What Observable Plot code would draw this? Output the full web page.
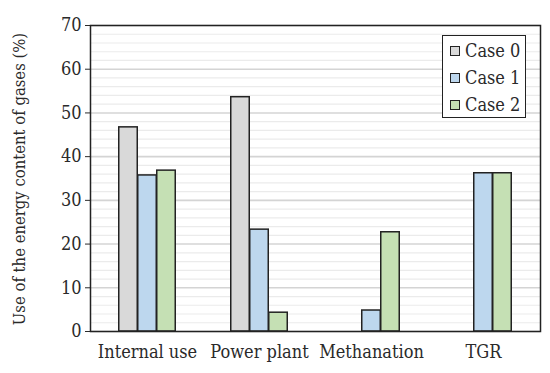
<!DOCTYPE html>
<html>
<head>
<meta charset="utf-8">
<script src="https://cdn.jsdelivr.net/npm/d3@7"></script>
<script src="https://cdn.jsdelivr.net/npm/@observablehq/plot@0.6"></script>
<style>
  html, body { margin: 0; padding: 0; background: #fff; }
  #wrap { position: relative; width: 550px; height: 373px; }
  #wrap svg text { font-family: "DejaVu Serif Condensed", "Liberation Serif", serif; }
  #legend { position: absolute; left: 442px; top: 35px; width: 84px; height: 83px;
    border: 1.5px solid #222; background: #fff; box-sizing: border-box;
    font-family: "DejaVu Serif Condensed", "Liberation Serif", serif; font-size: 18px; color: #2a2a2a; padding-top: 1px; }
  .item { display: flex; align-items: center; height: 27px; padding-left: 7px; }
  .sw { width: 8px; height: 8px; border: 1.3px solid #222; margin-right: 5px; }
</style>
</head>
<body>
<div id="wrap"><div id="legend"></div></div>
<script>
const categories = ["Internal use", "Power plant", "Methanation", "TGR"];
const series = ["Case 0", "Case 1", "Case 2"];
const case0 = [46.7, 53.6, 0, 0];
const case1 = [35.7, 23.3, 4.8, 36.2];
const case2 = [36.8, 4.3, 22.7, 36.2];
const colors = ["#d9d9d9", "#bdd7ee", "#c5e0b4"];
const yTicks = [0, 10, 20, 30, 40, 50, 60, 70];
const minorTicks = d3.range(0, 71, 2).filter(v => v % 10 !== 0);
const yLabel = "Use of the energy content of gases (%)";

const values = [case0, case1, case2];
const data = [];
series.forEach((s, i) => categories.forEach((c, j) => data.push({cat: c, series: s, value: values[i][j]})));

const barW = 19;
const band = 450 / categories.length;
const inset = (band - barW) / 2;

const barMarks = series.map((s, i) => Plot.barY(data.filter(d => d.series === s && d.value > 0), {
  x: "cat", y: "value", fill: colors[i], stroke: "#222", strokeWidth: 1.5,
  insetLeft: inset, insetRight: inset, dx: (i - 1) * barW
}));

const chart = Plot.plot({
  width: 550, height: 373,
  marginLeft: 90, marginRight: 10, marginTop: 25, marginBottom: 42,
  style: { fontFamily: "\"DejaVu Serif Condensed\", serif", fontSize: "18px", color: "#2a2a2a", background: "white" },
  x: { domain: categories, padding: 0, tickSize: 0, tickPadding: 14, label: null },
  y: { domain: [0, 70], ticks: yTicks, tickSize: 5, tickPadding: 4, label: null },
  marks: [
    Plot.ruleY(minorTicks, { stroke: "#ebebeb", strokeWidth: 1.2 }),
    Plot.ruleY(yTicks, { stroke: "#d4d4d4", strokeWidth: 1.6 }),
    ...barMarks,
    Plot.frame({ stroke: "#222", strokeWidth: 1.5 })
  ]
});
d3.select(chart).append("text")
  .attr("transform", "translate(19,179) rotate(-90)")
  .attr("text-anchor", "middle")
  .attr("dominant-baseline", "central")
  .attr("fill", "#2a2a2a")
  .style("font-size", "16.5px")
  .text(yLabel);
document.getElementById("wrap").prepend(chart);

const lg = document.getElementById("legend");
series.forEach((s, i) => {
  const it = document.createElement("div");
  it.className = "item";
  it.innerHTML = `<span class="sw" style="background:${colors[i]}"></span><span>${s}</span>`;
  lg.appendChild(it);
});
</script>
</body>
</html>
